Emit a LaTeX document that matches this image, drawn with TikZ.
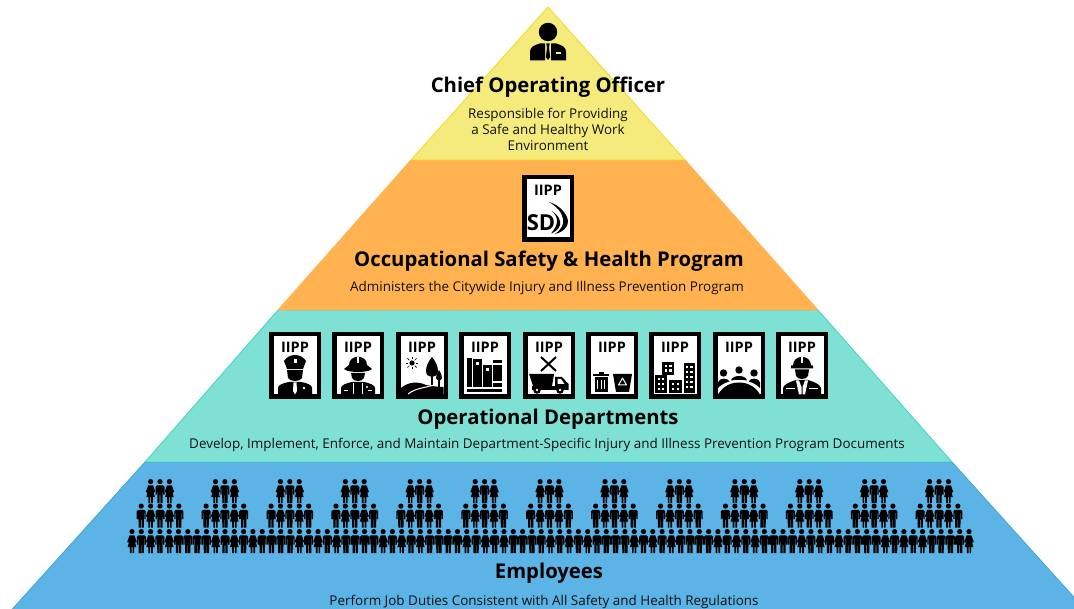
\documentclass[tikz,border=0pt]{standalone}
\usepackage{fontspec}
\setmainfont{Open Sans}
\definecolor{yel}{HTML}{F4EB7C}
\definecolor{yeledge}{HTML}{F3D91F}
\definecolor{ora}{HTML}{FFB24F}
\definecolor{teal1}{HTML}{7FE1D3}
\definecolor{tealedge}{HTML}{3ED3C3}
\definecolor{blu}{HTML}{5BB3E6}
\definecolor{bluedge}{HTML}{3FA4DC}
\definecolor{ink}{HTML}{111111}
\tikzset{
  x=1pt,y=-1pt,
  title/.style={font=\fontsize{20.3}{24}\selectfont\bfseries,text=black,inner sep=0pt,anchor=center},
  desc/.style={font=\fontsize{13.45}{16}\selectfont,text=ink,inner sep=0pt,anchor=center,align=center},
  iipp/.style={font=\fontsize{14.5}{14.5}\selectfont\bfseries,text=black,inner sep=0pt,anchor=center},
  band/.style={line width=0.8pt,line join=round},
  man/.pic={
    \fill[black] (0,2.6) circle (2.6);
    \fill[black] (-3,6.3) -- (3,6.3) -- (4.5,7.8) -- (4.5,15.5) -- (3.2,15.5) -- (3.2,9.5) -- (2.8,9.5) -- (2.6,24) -- (0.3,24) -- (0.3,16) -- (-0.3,16) -- (-0.3,24) -- (-2.6,24) -- (-2.8,9.5) -- (-3.2,9.5) -- (-3.2,15.5) -- (-4.5,15.5) -- (-4.5,7.8) -- cycle;
  },
  woman/.pic={
    \fill[black] (0,2.6) circle (2.6);
    \fill[black] (-2.4,6.3) -- (2.4,6.3) -- (4.8,13) -- (3.3,13.5) -- (2.3,10.5) -- (4.3,18) -- (2.2,18) -- (2.2,24) -- (0.5,24) -- (0.5,18) -- (-0.5,18) -- (-0.5,24) -- (-2.2,24) -- (-2.2,18) -- (-4.3,18) -- (-2.3,10.5) -- (-3.3,13.5) -- (-4.8,13) -- cycle;
  },
  group/.pic={
    \pic at (-9.4,0) {woman};
    \pic at (0,0) {man};
    \pic at (9.4,0) {woman};
    \foreach \i/\s in {-2/man,-1/woman,0/man,1/woman,2/man}{\pic at (\i*9.4,24.5) {\s};}
  },
  frame/.pic={
    \fill[black] (0,0) rectangle (52,67);
    \fill[white] (4.5,4.5) rectangle (47.5,62.5);
    \node[iipp] at (26,15.5) {IIPP};
  }
}
\begin{document}
\begin{tikzpicture}
\useasboundingbox (0,0) rectangle (1074,609);
\fill[white] (0,0) rectangle (1074,609);
% bands
\begin{scope}
\clip (0,0) rectangle (1074,609);
\draw[band,fill=blu,draw=bluedge] (145,462) -- (952,462) -- (1090,615) -- (7,615) -- cycle;
\draw[band,fill=teal1,draw=tealedge] (278,310) -- (818,310) -- (952,462) -- (145,462) -- cycle;
\draw[band,fill=ora,draw=ora] (411,160) -- (685,160) -- (818,310) -- (278,310) -- cycle;
\draw[band,fill=yel,draw=yeledge] (548,7) -- (685,160) -- (411,160) -- cycle;
\end{scope}
% chief icon
\fill[black] (548,32) circle (9.2);
\fill[black] (530,60.5) -- (530,52) .. controls (530,47.5) and (533,45.5) .. (540,43.5) -- (545,43.5) -- (545,60.5) -- cycle;
\fill[black] (566,60.5) -- (566,52) .. controls (566,47.5) and (563,45.5) .. (556,43.5) -- (551,43.5) -- (551,60.5) -- cycle;
\fill[black] (546.3,43.5) -- (549.7,43.5) -- (549,48) -- (550.2,57) -- (548,60) -- (545.8,57) -- (547,48) -- cycle;
\fill[yel] (556,52.3) rectangle (561,53.6);
% texts
\node[title] (chief) at (548,87) {Chief Operating Officer};
\node[desc] (chiefdesc) at (548,129) {Responsible for Providing\\a Safe and Healthy Work\\Environment};
\node[title] (osh) at (549,261.5) {Occupational Safety \& Health Program};
\node[desc] (oshdesc) at (547,288) {Administers the Citywide Injury and Illness Prevention Program};
\node[title] (ops) at (548,419) {Operational Departments};
\node[desc] (opsdesc) at (547,445) {Develop, Implement, Enforce, and Maintain Department-Specific Injury and Illness Prevention Program Documents};
\node[title] (emp) at (549,573.5) {Employees};
\node[desc] (empdesc) at (544,602) {Perform Job Duties Consistent with All Safety and Health Regulations};
% SD frame
\begin{scope}[shift={(522,175)}]
\pic {frame};
\node[font=\fontsize{22}{22}\selectfont\bfseries,inner sep=0,anchor=center] (sd) at (19,47.5) {SD};
\fill[black] (27,27) .. controls (37,30) and (45,38) .. (46,46) .. controls (46.5,52) and (41,57) .. (33,59) .. controls (40,54) and (42,49) .. (41,44) .. controls (40,37) and (34,31) .. (27,27) -- cycle;
\fill[black] (30,36) .. controls (36,40) and (39,45) .. (38,50) .. controls (37,54) and (33,57) .. (29,58.5) .. controls (33,54) and (35,50) .. (35,46) .. controls (35,42) and (33,39) .. (30,36) -- cycle;
\end{scope}
% police
\begin{scope}[shift={(269,332)}]
\pic {frame};
\fill[black] (15,29) .. controls (20,21) and (32,21) .. (37,29) -- (34,37) -- (18,37) -- cycle;
\fill[white] (24.5,27.5) rectangle (27.5,31);
\fill[black] (18,38) -- (34,38) -- (33,46) .. controls (31,50) and (21,50) .. (19,46) -- cycle;
\fill[black] (9,62.5) -- (9,56) .. controls (9,53) and (14,51) .. (20,50) -- (32,50) .. controls (38,51) and (43,53) .. (43,56) -- (43,62.5) -- cycle;
\fill[white] (24.5,50.5) -- (27.5,50.5) -- (28,59) -- (26,62.5) -- (24,59) -- cycle;
\fill[white] (35,56) circle (1.4);
\end{scope}
% firefighter
\begin{scope}[shift={(332,332)}]
\pic {frame};
\fill[black] (17,33) .. controls (17,22) and (35,22) .. (35,33) -- (40,37) .. controls (36,41) and (16,41) .. (12,37) -- cycle;
\fill[white] (24.7,25) rectangle (27.3,31);
\fill[black] (19,41) -- (33,41) -- (32,46) .. controls (30,50) and (22,50) .. (20,46) -- cycle;
\fill[black] (9,62.5) -- (9,56) .. controls (9,53) and (15,51) .. (20,50) -- (32,50) .. controls (37,51) and (43,53) .. (43,56) -- (43,62.5) -- cycle;
\fill[white] (21,51) rectangle (22,62.5);
\fill[white] (30,51) rectangle (31,62.5);
\fill[white] (12,58) rectangle (16,59);
\fill[white] (36,58) rectangle (40,59);
\fill[white] (35,55) circle (1.2);
\end{scope}
% parks
\begin{scope}[shift={(396,332)}]
\pic {frame};
\fill[black] (16,31) circle (2.6);
\foreach \a in {0,45,...,315}{\draw[black,line width=.7pt] (16,31)++(\a:3.8) -- ++(\a:2.6);}
\fill[black] (36,25) .. controls (32,30) and (30,35) .. (30,39) .. controls (30,43) and (33,45) .. (36,45) .. controls (39,45) and (42,43) .. (42,39) .. controls (42,35) and (40,30) .. (36,25) -- cycle;
\fill[black] (35.3,44) rectangle (36.9,56);
\fill[black] (43,38) .. controls (41,41) and (40,44) .. (40,46) .. controls (40,49) and (46,49) .. (46,46) .. controls (46,44) and (45,41) .. (43,38) -- cycle;
\fill[black] (42.3,48) rectangle (43.7,56);
\fill[black] (5,56) .. controls (12,50) and (22,49) .. (30,53) .. controls (36,54) and (42,55) .. (47.5,55) -- (47.5,62.5) -- (4.5,62.5) -- cycle;
\draw[white,line width=1pt] (12,62) .. controls (20,56) and (28,56) .. (38,53);
\end{scope}
% library
\begin{scope}[shift={(459,332)}]
\pic {frame};
\fill[black] (8,26) rectangle (12.5,55);
\fill[black] (14,27) rectangle (22.5,55);
\fill[black] (24,33) rectangle (32.5,55);
\fill[black] (34,28) rectangle (43,55);
\fill[black] (8,57) rectangle (43,60);
\fill[white] (16.5,30) rectangle (20,33);
\fill[white] (26.5,36) rectangle (30,39);
\fill[white] (34,31.5) rectangle (43,33);
\fill[white] (34,49.5) rectangle (43,51);
\end{scope}
% public works
\begin{scope}[shift={(523,332)}]
\pic {frame};
\draw[black,line width=2pt] (18,25) -- (33,39);
\draw[black,line width=2pt] (33,25) -- (18,39);
\fill[black] (6,42) -- (31,42) -- (29,54) -- (10,54) -- cycle;
\fill[black] (32,45) -- (39,45) -- (45.5,52) -- (45.5,58) -- (32,58) -- cycle;
\fill[white] (34.5,47) -- (38,47) -- (41.5,52) -- (34.5,52) -- cycle;
\fill[black] (9,54) rectangle (32,58);
\fill[black] (14,58) circle (3.8);
\fill[black] (37,58) circle (3.8);
\fill[white] (14,58) circle (1.3);
\fill[white] (37,58) circle (1.3);
\end{scope}
% trash
\begin{scope}[shift={(586,332)}]
\pic {frame};
\fill[black] (7,42) rectangle (23,44.5);
\fill[black] (12.5,40) rectangle (17.5,42);
\fill[black] (8.5,45.5) rectangle (21.5,60);
\foreach \xx in {11,14.5,18}{\fill[white] (\xx,48) rectangle (\xx+1,57.5);}
\fill[black] (27,42) -- (46,42) -- (43,60) -- (30,60) -- cycle;
\draw[white,line width=1pt,line join=round] (36.5,46) -- (32.5,53) -- (40.5,53) -- cycle;
\end{scope}
% city
\begin{scope}[shift={(649,332)}]
\pic {frame};
\fill[black] (13,30) rectangle (24.5,43);
\fill[black] (34.5,31) rectangle (46,61);
\fill[black] (6,43) rectangle (18,61);
\fill[black] (20,48) rectangle (33,61);
\fill[white] (15.5,33) rectangle (18,35.5);
\fill[white] (20,33) rectangle (22.5,35.5);
\fill[white] (15.5,37.5) rectangle (18,40);
\fill[white] (20,37.5) rectangle (22.5,40);
\foreach \yy in {34,39,44,49,54}{\fill[white] (37,\yy) rectangle (39.3,\yy+2.5);\fill[white] (41.3,\yy) rectangle (43.6,\yy+2.5);}
\foreach \yy in {46,51,56}{\fill[white] (8.5,\yy) rectangle (10.8,\yy+2.5);\fill[white] (13,\yy) rectangle (15.3,\yy+2.5);}
\foreach \yy in {51,56}{\fill[white] (22.5,\yy) rectangle (24.8,\yy+2.5);\fill[white] (27.5,\yy) rectangle (29.8,\yy+2.5);}
\end{scope}
% meeting
\begin{scope}[shift={(713,332)}]
\pic {frame};
\fill[black] (26,38) circle (3.7);
\fill[black] (10.5,41) circle (3.7);
\fill[black] (41,41) circle (3.7);
\fill[black] (18,48.5) .. controls (19,42.5) and (33,42.5) .. (34,48.5) .. controls (29,47.5) and (23,47.5) .. (18,48.5) -- cycle;
\fill[black] (5,56) -- (5,50.5) .. controls (6,45.5) and (15,45.5) .. (16.5,49.5) .. controls (12,50.5) and (8,53) .. (5,56) -- cycle;
\fill[black] (47,56) -- (47,50.5) .. controls (46,45.5) and (37,45.5) .. (35.5,49.5) .. controls (40,50.5) and (44,53) .. (47,56) -- cycle;
\fill[black] (5,62.5) .. controls (10,54) and (18,50.5) .. (26,50.5) .. controls (34,50.5) and (42,54) .. (47,62.5) -- cycle;
\end{scope}
% construction
\begin{scope}[shift={(776,332)}]
\pic {frame};
\fill[black] (17,33.5) .. controls (17,22) and (35,22) .. (35,33.5) -- (37,33.5) -- (37,36.5) -- (15,36.5) -- (15,33.5) -- cycle;
\fill[white] (24.8,25.5) rectangle (27.2,31);
\fill[black] (19,37.5) -- (33,37.5) -- (32,44) .. controls (30,48) and (22,48) .. (20,44) -- cycle;
\fill[black] (7,62.5) -- (7,56) .. controls (8,52) and (14,50) .. (20,48) -- (32,48) .. controls (38,50) and (44,52) .. (45,56) -- (45,62.5) -- cycle;
\fill[white] (20,48.5) -- (23,48.5) -- (25.5,55) -- (25.5,62.5) -- (23,62.5) -- cycle;
\fill[white] (32,48.5) -- (29,48.5) -- (26.5,55) -- (26.5,62.5) -- (29,62.5) -- cycle;
\fill[white] (10,56) rectangle (19,57.2);
\fill[white] (33,56) rectangle (42,57.2);
\end{scope}
% people groups
\foreach \k in {0,...,12}{\pic at (160+\k*64.92,479) {group};}
\foreach \k in {0,...,90}{
  \pgfmathtruncatemacro{\m}{mod(\k,9)}
  \pgfmathtruncatemacro{\n}{mod(\m,2)}
  \ifnum\m>5 \pic at (132+\k*9.3,529) {man};
  \else\ifnum\n=0 \pic at (132+\k*9.3,529) {woman}; \else \pic at (132+\k*9.3,529) {man}; \fi\fi
}
\end{tikzpicture}
\end{document}
